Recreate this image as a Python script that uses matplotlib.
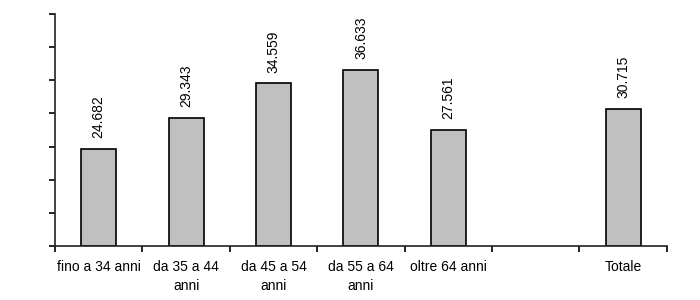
import matplotlib.pyplot as plt
import numpy as np

plt.rcParams['font.family'] = ['Liberation Sans', 'DejaVu Sans']

# data
categories = ["fino a 34 anni", "da 35 a 44\nanni", "da 45 a 54\nanni",
              "da 55 a 64\nanni", "oltre 64 anni", "", "Totale"]
values = [24.682, 29.343, 34.559, 36.633, 27.561, None, 30.715]
value_labels = ["24.682", "29.343", "34.559", "36.633", "27.561", "", "30.715"]

fig = plt.figure(figsize=(7, 3), dpi=100)
ax = fig.add_axes([0.0786, 0.18, 0.874, 0.773])

x = np.arange(len(categories))
for xi, v, lab in zip(x, values, value_labels):
    if v is None:
        continue
    ax.bar(xi, v - 10, bottom=10, width=0.4, color='#C0C0C0',
           edgecolor='black', linewidth=1.2)
    ax.annotate(lab, (xi, v), xytext=(0, 7.5), textcoords='offset points',
                rotation=90, ha='center', va='bottom', fontsize=10)

ax.set_ylim(10, 45)
ax.set_yticks(np.arange(10, 46, 5))
ax.set_yticklabels([])
ax.set_xlim(-0.5, len(categories) - 0.5)

# ticks at category boundaries, labels centred below each category
ax.set_xticks(np.arange(-0.5, len(categories), 1.0))
ax.set_xticklabels([])
ax.set_xticks(x, minor=True)
ax.set_xticklabels(categories, minor=True, fontsize=10, linespacing=1.45)
ax.tick_params(axis='x', which='minor', length=0, pad=10)
ax.tick_params(axis='x', which='major', length=4, width=1.2, direction='out')
ax.tick_params(axis='y', length=4, width=1.2, direction='out')

for s in ['top', 'right']:
    ax.spines[s].set_visible(False)
for s in ['left', 'bottom']:
    ax.spines[s].set_linewidth(1.2)
    ax.spines[s].set_color('#222222')

fig.savefig('out.png', dpi=100)
